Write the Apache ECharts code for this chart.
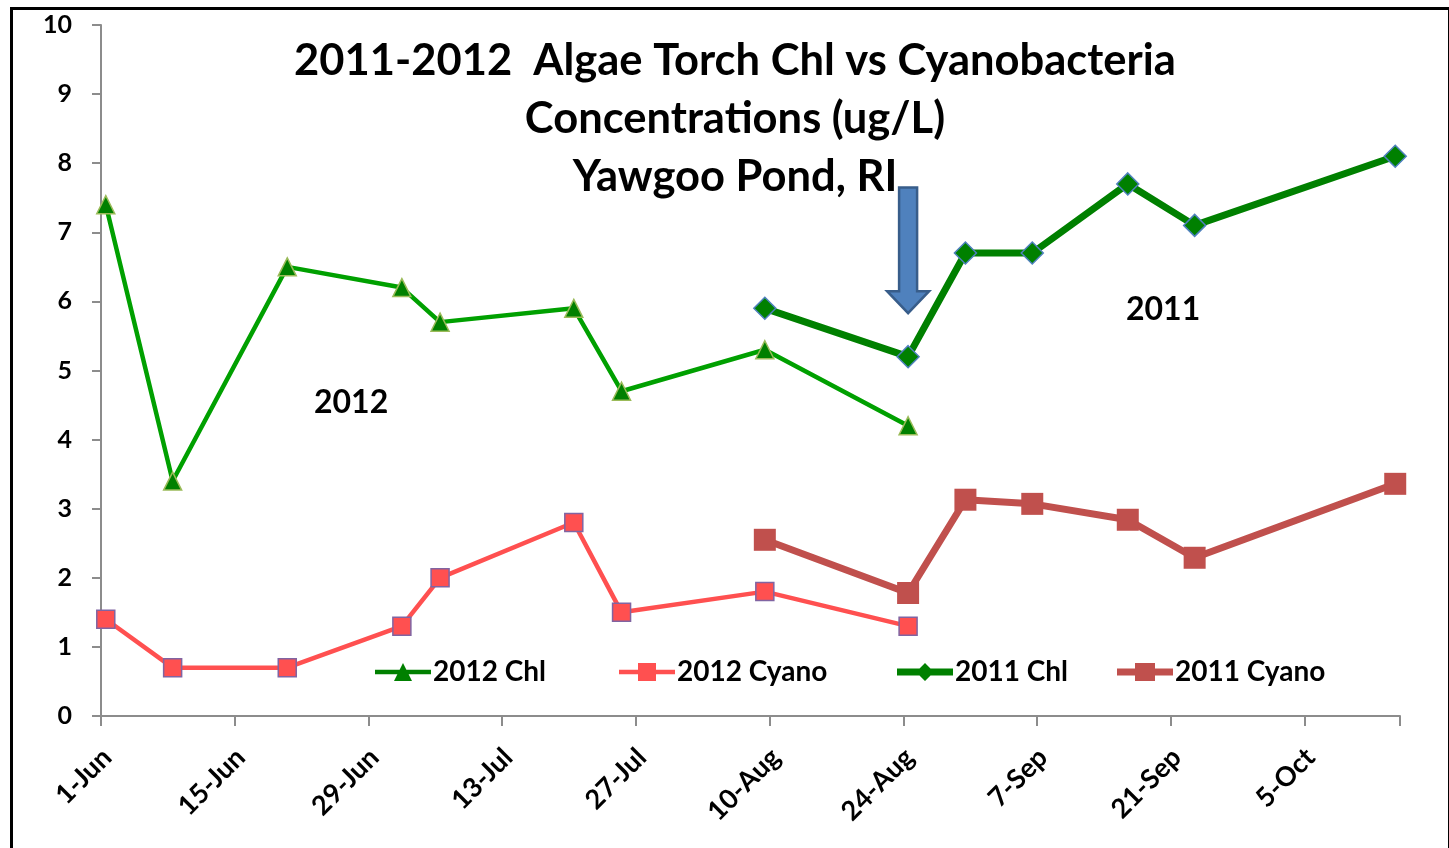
<!DOCTYPE html>
<html><head><meta charset="utf-8">
<script src="https://cdn.jsdelivr.net/npm/echarts@6/dist/echarts.min.js"></script>
<style>html,body{margin:0;padding:0;background:#fff}#c{width:1449px;height:848px}</style>
</head><body><div id="c"></div>
<script>
// Day offsets from 1-Jun
const tickLabels = ['1-Jun','15-Jun','29-Jun','13-Jul','27-Jul','10-Aug','24-Aug','7-Sep','21-Sep','5-Oct'];
const chl2012Days = [0, 7, 19, 31, 35, 49, 54, 69, 84];
const chl2012Vals = [7.4, 3.4, 6.5, 6.2, 5.7, 5.9, 4.7, 5.3, 4.2];
const cyano2012Days = [0, 7, 19, 31, 35, 49, 54, 69, 84];
const cyano2012Vals = [1.4, 0.7, 0.7, 1.3, 2.0, 2.8, 1.5, 1.8, 1.3];
const chl2011Days = [69, 84, 90, 97, 107, 114, 135];
const chl2011Vals = [5.9, 5.2, 6.7, 6.7, 7.7, 7.1, 8.1];
const cyano2011Days = [69, 84, 90, 97, 107, 114, 135];
const cyano2011Vals = [2.55, 1.78, 3.13, 3.07, 2.84, 2.29, 3.36];

const FONT = 'Lato';
const pair = (d, v) => d.map((x, i) => [x + 0.5, v[i]]); // Excel date axis centres points in their day

// legend icons: line segment with the series marker in the middle
const ICON_TRI = 'path://M0,6.8H56V11.2H0Z M19,18L28,0L37,18Z';
const ICON_SQ = 'path://M0,6.8H56V11.2H0Z M19,0H37V18H19Z';
const ICON_DIA = 'path://M0,5.5H56V12.5H0Z M28,0L37,9L28,18L19,9Z';
const ICON_SQ2 = 'path://M0,5.5H56V12.5H0Z M18,0H38V18H18Z';

const chart = echarts.init(document.getElementById('c'));
const legendBase = {
  orient: 'horizontal', top: 653, itemWidth: 56, itemHeight: 18, itemGap: 4,
  itemStyle: { borderWidth: 0 },
  textStyle: { fontFamily: FONT, fontWeight: 'bold', fontSize: 28, color: '#000', padding: [0,0,0,-3] }
};
const grid = { left: 101, right: 49, top: 25, bottom: 132, containLabel: false };
chart.setOption({
  animation: false,
  backgroundColor: '#fff',
  grid: [grid, { left: 107, right: 43, top: 25, bottom: 132, containLabel: false }],
  title: {
    text: '2011-2012  Algae Torch Chl vs Cyanobacteria\nConcentrations (ug/L)\nYawgoo Pond, RI',
    left: 730, top: 27, textAlign: 'center',
    textStyle: { fontFamily: FONT, fontWeight: 'bold', fontSize: 43.5, lineHeight: 58, color: '#000' }
  },
  legend: [
    Object.assign({}, legendBase, { left: 370, data: [{ name: '2012 Chl', icon: ICON_TRI }] }),
    Object.assign({}, legendBase, { left: 614, data: [{ name: '2012 Cyano', icon: ICON_SQ }] }),
    Object.assign({}, legendBase, { left: 892, data: [{ name: '2011 Chl', icon: ICON_DIA }] }),
    Object.assign({}, legendBase, { left: 1112, data: [{ name: '2011 Cyano', icon: ICON_SQ2 }] })
  ],
  xAxis: [{
    type: 'value', min: 0, max: 136, interval: 14, gridIndex: 0,
    splitLine: { show: false },
    axisLine: { lineStyle: { color: '#8c8c8c', width: 2 } },
    axisTick: { show: true, length: 10, lineStyle: { color: '#8c8c8c', width: 2 } },
    axisLabel: { show: false }
  }, {
    // label-only axis: Excel hangs rotated date labels just right of each tick
    type: 'value', min: 0, max: 136, interval: 14, gridIndex: 1,
    splitLine: { show: false }, axisLine: { show: false }, axisTick: { show: false },
    axisLabel: {
      rotate: 45, margin: 37, fontFamily: FONT, fontWeight: 'bold', fontSize: 27, color: '#000',
      formatter: v => tickLabels[Math.round(v / 14)] || ''
    }
  }],
  yAxis: [{
    type: 'value', min: 0, max: 10, interval: 1, gridIndex: 0,
    splitLine: { show: false },
    axisLine: { show: true, lineStyle: { color: '#8c8c8c', width: 2 } },
    axisTick: { show: true, length: 9, lineStyle: { color: '#8c8c8c', width: 2 } },
    axisLabel: { margin: 29, fontFamily: FONT, fontWeight: 'bold', fontSize: 25, color: '#000' }
  }, {
    type: 'value', min: 0, max: 10, gridIndex: 1, show: false
  }],
  series: [
    { name: '2012 Chl', type: 'line', data: pair(chl2012Days, chl2012Vals),
      lineStyle: { color: '#00a000', width: 4.5 }, itemStyle: { color: '#008000', borderColor: '#9bbb59', borderWidth: 1.5 },
      symbol: 'triangle', symbolSize: 18, z: 3 },
    { name: '2012 Cyano', type: 'line', data: pair(cyano2012Days, cyano2012Vals),
      lineStyle: { color: '#ff5050', width: 4.5 }, itemStyle: { color: '#ff5050', borderColor: '#8064a2', borderWidth: 1.5 },
      symbol: 'rect', symbolSize: 18, z: 3 },
    { name: '2011 Chl', type: 'line', data: pair(chl2011Days, chl2011Vals),
      lineStyle: { color: '#008000', width: 7 }, itemStyle: { color: '#008000', borderColor: '#4f81bd', borderWidth: 1.5 },
      symbol: 'diamond', symbolSize: 22, z: 4 },
    { name: '2011 Cyano', type: 'line', data: pair(cyano2011Days, cyano2011Vals),
      lineStyle: { color: '#c0504d', width: 7 }, itemStyle: { color: '#c0504d', borderWidth: 0 },
      symbol: 'rect', symbolSize: 22, z: 4 }
  ]
});

// annotations: arrow pointing to 24-Aug, and year labels
const pTop = chart.convertToPixel({ gridIndex: 0 }, [84.5, 7.65]);
const pBot = chart.convertToPixel({ gridIndex: 0 }, [84.5, 5.83]);
const cx = pTop[0], y0 = pTop[1], y1 = pBot[1];
const headH = 22, shaftHalf = 9, headHalf = 21;
chart.setOption({
  graphic: [
    { type: 'rect', left: 9, top: 6, shape: { width: 1438, height: 846 }, silent: true,
      style: { fill: 'none', stroke: '#000', lineWidth: 3 } , z: 100 },
    { type: 'polygon', shape: { points: [
        [cx - shaftHalf, y0], [cx + shaftHalf, y0], [cx + shaftHalf, y1 - headH],
        [cx + headHalf, y1 - headH], [cx, y1], [cx - headHalf, y1 - headH], [cx - shaftHalf, y1 - headH] ] },
      style: { fill: '#4f81bd', stroke: '#385d8a', lineWidth: 2.5 }, z: 50 },
    { type: 'text', left: 314, top: 387, style: { text: '2012', fontFamily: FONT, fontWeight: 'bold', fontSize: 32, fill: '#000' } },
    { type: 'text', left: 1126, top: 294, style: { text: '2011', fontFamily: FONT, fontWeight: 'bold', fontSize: 32, fill: '#000' } }
  ]
});
</script></body></html>
